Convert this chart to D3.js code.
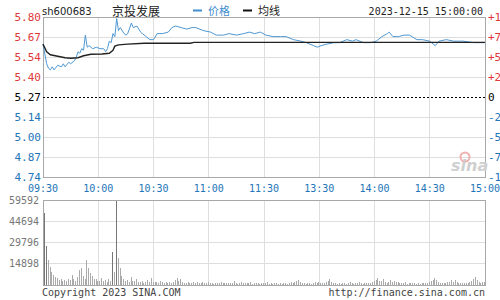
<!DOCTYPE html>
<html>
<head>
<meta charset="utf-8">
<script src="https://cdn.jsdelivr.net/npm/d3@7"></script>
<style>
  html, body { margin: 0; padding: 0; background: #fff; overflow: hidden; }
  svg { display: block; }
  .mono { font-family: "DejaVu Sans Mono", monospace; }
</style>
</head>
<body>
<div id="chart"></div>
<script>
// ---- data ----
const stockCode = "sh600683";
const stockName = "京投发展";
const stamp = "2023-12-15 15:00:00";
const prevClose = 5.27;

const timeLabels = ["09:30","10:00","10:30","11:00","11:30","13:30","14:00","14:30","15:00"];
const priceTickLabels = ["5.80","5.67","5.54","5.40","5.27","5.14","5.00","4.87","4.74"];
const pctTickLabels = ["+10.00%","+7.50%","+5.00%","+2.50%","0","-2.50%","-5.00%","-7.50%","-10.00%"];
const volTickLabels = ["59592","44694","29796","14898"];

// price line: minute since 09:30 (trading minutes) and price
const priceMin = [0,2,3,4,5,6,8,10,11,12,14,15,17,18,19,20,21,22,23,24,25,27,29,31,33,34,35,36,37,38,39,40,41,42,44,45,46,48,49,51,53,54,56,58,60,62,65,68,70,72,75,78,81,83,87,91,94,98,101,105,109,112,115,118,121,125,129,132,136,140,143,147,149,151,154,158,161,165,168,170,174,178,181,184,187,188,190,193,196,199,203,206,210,213,215,219,223,228,234,240];
const priceVal = [5.62,5.49,5.46,5.45,5.47,5.45,5.48,5.47,5.49,5.47,5.50,5.49,5.51,5.53,5.57,5.56,5.59,5.58,5.68,5.60,5.61,5.59,5.60,5.59,5.59,5.57,5.59,5.64,5.63,5.69,5.67,5.79,5.71,5.73,5.69,5.68,5.69,5.76,5.73,5.74,5.70,5.69,5.67,5.65,5.65,5.69,5.69,5.70,5.73,5.74,5.73,5.72,5.73,5.73,5.71,5.70,5.68,5.68,5.69,5.68,5.69,5.70,5.69,5.70,5.68,5.67,5.67,5.67,5.65,5.64,5.63,5.61,5.60,5.61,5.62,5.63,5.63,5.65,5.64,5.65,5.63,5.63,5.64,5.67,5.69,5.70,5.67,5.67,5.68,5.68,5.65,5.65,5.64,5.61,5.64,5.65,5.64,5.64,5.63,5.63];

// average price line
const avgMin = [0,2,4,8,12,15,19,22,26,32,36,38,39,41,46,55,80,82,240];
const avgVal = [5.62,5.57,5.55,5.54,5.53,5.527,5.53,5.543,5.553,5.555,5.56,5.58,5.607,5.615,5.62,5.626,5.626,5.632,5.632];

// volume per minute
const volume = [
  50500,27000,17500,12800,9300,7000,5600,4800,3500,4200,3000,3600,2800,4000,3200,7000,4500,3000,5600,10500,
  11900,6000,4200,17500,12000,8500,6000,4500,4000,2500,3000,5000,2800,3500,2200,4500,2600,23300,9000,59592,
  19000,12000,6000,4500,2800,3800,2000,5800,2500,3000,4000,2200,1800,2600,1500,2000,3500,1800,5000,2400,
  1800,2200,1500,2600,1800,1400,2000,1600,2400,1500,1800,3500,4900,3000,4200,2200,1600,1400,2000,1500,
  1400,1800,1200,2200,1500,1300,1800,1100,1600,2400,1300,1500,1000,1700,1200,1400,2000,1100,1300,1600,
  1200,1500,1100,2600,1400,1000,1300,1800,1200,1500,1100,1300,2200,1000,1400,1200,1600,900,1300,1100,
  1500,1800,1000,1200,900,1400,1100,800,1300,1000,1200,1500,900,1100,1800,1300,2200,2600,3500,2400,
  1600,1200,900,1100,1400,1000,1300,1800,1200,2000,1500,1100,1600,2400,3000,4200,2000,1400,1200,1000,
  1300,900,1100,1500,1000,1200,1800,1300,1000,1100,1600,2000,1400,1000,1200,1500,1100,1300,2000,2800,
  3500,4900,3000,2600,4200,2000,1500,1800,3500,2400,3000,1800,2200,1400,1100,1300,1800,1000,1200,1500,
  1100,1400,1000,1300,900,1200,1600,1100,1400,2000,2600,3200,4900,3800,2400,1600,1200,1500,1100,1800,
  2200,3500,2400,3200,1800,1400,1200,1600,1100,1500,1300,2000,2800,4200,5800,3600,2000,1400,1800,2400
];

// ---- layout ----
const width = 500, height = 300;
const left = 43, right = 485;
const pTop = 17, pBot = 177;
const vTop = 200, vBot = 285;

const red = "#e0383a", blue = "#2275b8", gridC = "#dedede", borderC = "#a8a8a8";

const svg = d3.select("#chart").append("svg")
  .attr("width", width).attr("height", height)
  .attr("viewBox", `0 0 ${width} ${height}`);

const x = d3.scaleLinear().domain([0, 240]).range([left, right]);
const yPrice = d3.scaleLinear().domain([4.74, 5.80]).range([pBot, pTop]);
const yTick = d3.scalePoint().domain(d3.range(priceTickLabels.length)).range([pTop, pBot]);
const yVol = d3.scaleLinear().domain([0, +volTickLabels[0]]).range([vBot, vTop]);

const timeMins = timeLabels.map((d, i) => i * 30);

// ---- price panel grid ----
const pg = svg.append("g").attr("shape-rendering", "crispEdges");
pg.selectAll(".hg").data(d3.range(priceTickLabels.length).filter(i => i !== 4))
  .enter().append("line")
  .attr("x1", left).attr("x2", right)
  .attr("y1", d => yTick(d)).attr("y2", d => yTick(d))
  .attr("stroke", gridC);
pg.selectAll(".vg").data(timeMins)
  .enter().append("line")
  .attr("x1", d => x(d)).attr("x2", d => x(d))
  .attr("y1", pTop).attr("y2", pBot)
  .attr("stroke", gridC);
pg.append("rect")
  .attr("x", left).attr("y", pTop).attr("width", right - left).attr("height", pBot - pTop)
  .attr("fill", "none").attr("stroke", borderC);
// previous close dotted line
svg.append("line")
  .attr("x1", left).attr("x2", right)
  .attr("y1", yTick(4)).attr("y2", yTick(4))
  .attr("stroke", "#000").attr("stroke-dasharray", "2,2")
  .attr("shape-rendering", "crispEdges");

// sina watermark
const wm = svg.append("g").attr("transform", "translate(451,171)");
wm.append("circle").attr("cx", 14).attr("cy", -14).attr("r", 4.5)
  .attr("fill", "none").attr("stroke", "#f0b0b0").attr("stroke-width", 2);
wm.append("text").text("sina")
  .attr("font-family", "DejaVu Sans, sans-serif").attr("font-size", 16)
  .attr("font-style", "italic").attr("font-weight", "bold")
  .attr("fill", "#cfcfcf");

// ---- left & right labels ----
svg.append("g").attr("class", "mono").selectAll("text").data(priceTickLabels)
  .enter().append("text")
  .attr("x", 41).attr("y", (d, i) => yTick(i)).attr("dy", "0.35em")
  .attr("text-anchor", "end").attr("font-size", 11)
  .attr("fill", (d, i) => i < 4 ? red : i === 4 ? "#000" : blue)
  .text(d => d);

svg.append("g").attr("class", "mono").selectAll("text").data(pctTickLabels)
  .enter().append("text")
  .attr("x", 488).attr("y", (d, i) => yTick(i)).attr("dy", "0.35em")
  .attr("font-size", 11)
  .attr("fill", (d, i) => i < 4 ? red : i === 4 ? "#000" : blue)
  .text(d => d);

// time labels
svg.append("g").attr("class", "mono").selectAll("text").data(timeLabels)
  .enter().append("text")
  .attr("x", (d, i) => x(timeMins[i])).attr("y", 192)
  .attr("text-anchor", "middle").attr("font-size", 10)
  .attr("fill", blue)
  .text(d => d);

// ---- lines ----
const line = d3.line().x(d => x(d[0]));
svg.append("path")
  .datum(priceMin.map((m, i) => [m, priceVal[i]]))
  .attr("d", line.y(d => yPrice(d[1])))
  .attr("fill", "none").attr("stroke", "#4f98d2").attr("stroke-width", 1);
svg.append("path")
  .datum(avgMin.map((m, i) => [m, avgVal[i]]))
  .attr("d", line.y(d => yPrice(d[1])))
  .attr("fill", "none").attr("stroke", "#222").attr("stroke-width", 1.4);

// ---- volume panel ----
const vg = svg.append("g").attr("shape-rendering", "crispEdges");
vg.selectAll(".hg").data(volTickLabels.slice(1))
  .enter().append("line")
  .attr("x1", left).attr("x2", right)
  .attr("y1", d => yVol(+d)).attr("y2", d => yVol(+d))
  .attr("stroke", gridC);
vg.selectAll(".vg").data(timeMins)
  .enter().append("line")
  .attr("x1", d => x(d)).attr("x2", d => x(d))
  .attr("y1", vTop).attr("y2", vBot)
  .attr("stroke", gridC);
vg.selectAll(".bar").data(volume)
  .enter().append("rect")
  .attr("x", (d, i) => Math.round(x(i)) + 1)
  .attr("width", 1)
  .attr("y", d => yVol(d))
  .attr("height", d => vBot - yVol(d))
  .attr("fill", d => d > 20000 ? "#777" : "#aaa");
vg.append("rect")
  .attr("x", left).attr("y", vTop).attr("width", right - left).attr("height", vBot - vTop)
  .attr("fill", "none").attr("stroke", borderC);

svg.append("g").attr("class", "mono").selectAll("text").data(volTickLabels)
  .enter().append("text")
  .attr("x", 39).attr("y", d => yVol(+d)).attr("dy", "0.35em")
  .attr("text-anchor", "end").attr("font-size", 10)
  .attr("fill", "#777")
  .text(d => d);

// ---- header ----
svg.append("text").attr("x", 42).attr("y", 15)
  .attr("font-family", "DejaVu Sans, sans-serif").attr("font-size", 10)
  .attr("fill", "#222").text(stockCode);
svg.append("text").attr("x", 112).attr("y", 16)
  .attr("font-family", "Noto Sans CJK SC").attr("font-size", 12)
  .attr("fill", "#222").text(stockName);

const legend = svg.append("g");
legend.append("line").attr("x1", 193).attr("x2", 202).attr("y1", 10.5).attr("y2", 10.5)
  .attr("stroke", "#3f8fd0").attr("stroke-width", 2);
legend.append("text").attr("x", 208).attr("y", 15)
  .attr("font-family", "Noto Sans CJK SC").attr("font-size", 11)
  .attr("fill", "#3f8fd0").text("价格");
legend.append("line").attr("x1", 243).attr("x2", 252).attr("y1", 10.5).attr("y2", 10.5)
  .attr("stroke", "#111").attr("stroke-width", 2);
legend.append("text").attr("x", 258).attr("y", 15)
  .attr("font-family", "Noto Sans CJK SC").attr("font-size", 11)
  .attr("fill", "#222").text("均线");

svg.append("text").attr("class", "mono").attr("x", 483).attr("y", 15)
  .attr("text-anchor", "end").attr("font-size", 10)
  .attr("fill", "#222").text(stamp);

// ---- footer ----
svg.append("text").attr("class", "mono").attr("x", 42).attr("y", 296)
  .attr("font-size", 10).attr("fill", "#444").text("Copyright 2023 SINA.COM");
svg.append("text").attr("class", "mono").attr("x", 485).attr("y", 296)
  .attr("text-anchor", "end").attr("font-size", 10).attr("fill", "#444")
  .text("http://finance.sina.com.cn");
</script>
</body>
</html>
